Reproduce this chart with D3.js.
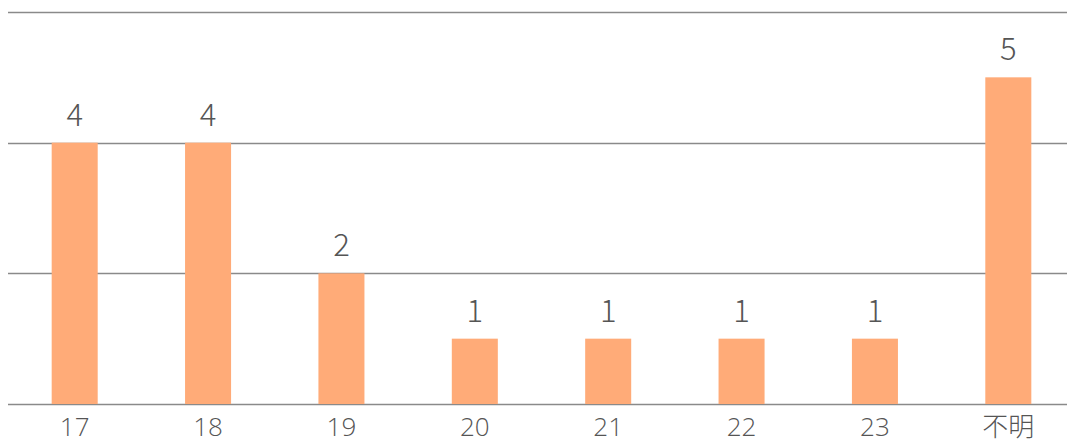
<!DOCTYPE html>
<html><head><meta charset="utf-8">
<script src="https://cdn.jsdelivr.net/npm/d3@7"></script>
<style>body{margin:0;background:#fff;}svg{display:block;}</style>
</head><body>
<script>
const categories = ["17","18","19","20","21","22","23","不明"];
const values = [4,4,2,1,1,1,1,5];
const yTicks = [0,2,4,6];

const W = 1067, H = 439;
const svg = d3.select("body").append("svg").attr("width", W).attr("height", H);
const x = d3.scaleBand().domain(categories).range([8, 1075]).paddingInner(0.655).paddingOuter(0.3275);
const y = d3.scaleLinear().domain([0, 6]).range([404, 12]);

svg.append("g").selectAll("line").data(yTicks).join("line")
  .attr("x1", 8).attr("x2", W)
  .attr("y1", d => Math.round(y(d)) + 0.5).attr("y2", d => Math.round(y(d)) + 0.5)
  .attr("stroke", "#8a8a8a").attr("stroke-width", 1.3);

svg.append("g").selectAll("rect").data(values).join("rect")
  .attr("x", (d, i) => x(categories[i]))
  .attr("width", x.bandwidth())
  .attr("y", d => y(d))
  .attr("height", d => y(0) - y(d))
  .attr("fill", "#ffab78");

svg.append("g").selectAll("text").data(values).join("text")
  .attr("x", (d, i) => x(categories[i]) + x.bandwidth() / 2)
  .attr("y", d => y(d) - 17)
  .attr("text-anchor", "middle")
  .attr("font-family", "'Noto Sans CJK JP', 'Noto Sans', sans-serif")
  .attr("font-weight", 300)
  .attr("font-size", 31)
  .attr("fill", "#555")
  .text(d => d);

svg.append("g").selectAll("text").data(categories).join("text")
  .attr("x", d => x(d) + x.bandwidth() / 2)
  .attr("y", 436)
  .attr("text-anchor", "middle")
  .attr("font-family", "'Open Sans', 'Noto Sans CJK JP', sans-serif")
  .attr("font-weight", 300)
  .attr("font-size", 26)
  .attr("fill", "#555")
  .text(d => d);
</script>
</body></html>
